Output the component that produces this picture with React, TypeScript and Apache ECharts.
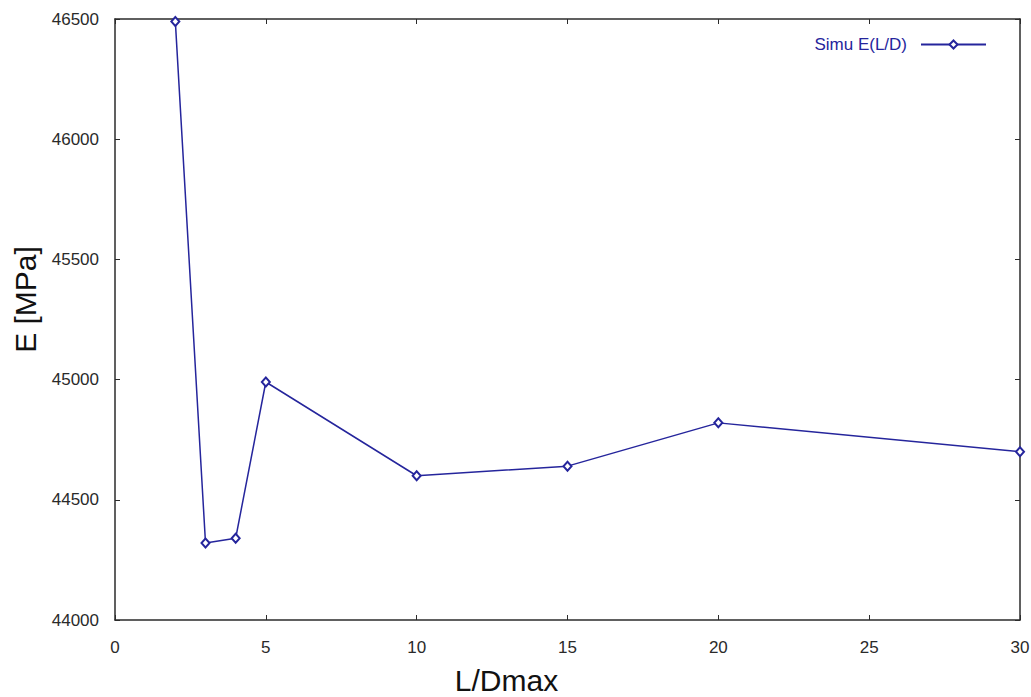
import React, { useEffect, useRef } from "react";
import * as echarts from "echarts";

// L/Dmax ratios and simulated modulus E [MPa]
const ratios: number[] = [2, 3, 4, 5, 10, 15, 20, 30];
const modulus: number[] = [46490, 44320, 44340, 44990, 44600, 44640, 44820, 44700];
const seriesName = "Simu E(L/D)";

const xMin = 0, xMax = 30, xStep = 5;
const yMin = 44000, yMax = 46500, yStep = 500;

const lineColor = "#25259c";
const axisColor = "#2b2b2b";
const font = "'Liberation Sans', Arial, sans-serif";

export default function App() {
  const ref = useRef<HTMLDivElement>(null);

  useEffect(() => {
    if (!ref.current) return;
    const chart = echarts.init(ref.current, undefined, { renderer: "svg" });
    const axisLine = { show: true, onZero: false, lineStyle: { color: axisColor, width: 1.5 } };
    const tick = { show: true, inside: true, length: 5, lineStyle: { color: axisColor, width: 1 } };
    const label = { color: "#2a2a2a", fontSize: 17, fontFamily: font };
    chart.setOption({
      animation: false,
      backgroundColor: "#fff",
      grid: { left: 115, right: 11, top: 19, bottom: 77, containLabel: false, outerBoundsMode: "none" },
      legend: {
        right: 39,
        top: 31,
        align: "right",
        itemWidth: 65,
        itemHeight: 10,
        textStyle: { color: lineColor, fontSize: 17, fontFamily: font, padding: [0, 9, 0, 0] },
        data: [seriesName],
      },
      xAxis: [
        {
          type: "value", min: xMin, max: xMax, interval: xStep,
          name: "L/Dmax", nameLocation: "middle", nameGap: 45,
          nameTextStyle: { fontSize: 30, color: "#111", fontFamily: font, padding: [0, 122, 0, 0] },
          axisLine, axisTick: tick,
          axisLabel: { ...label, margin: 19, formatter: (v: number) => String(v) },
          splitLine: { show: false },
        },
        {
          type: "value", position: "top", min: xMin, max: xMax, interval: xStep,
          axisLine, axisTick: tick, axisLabel: { show: false }, splitLine: { show: false },
        },
      ],
      yAxis: [
        {
          type: "value", min: yMin, max: yMax, interval: yStep,
          name: "E [MPa]", nameLocation: "middle", nameGap: 73,
          nameTextStyle: { fontSize: 30, color: "#111", fontFamily: font, padding: [0, 0, 0, 40] },
          axisLine, axisTick: tick,
          axisLabel: { ...label, margin: 16, formatter: (v: number) => String(v) },
          splitLine: { show: false },
        },
        {
          type: "value", position: "right", min: yMin, max: yMax, interval: yStep,
          axisLine, axisTick: tick, axisLabel: { show: false }, splitLine: { show: false },
        },
      ],
      series: [
        {
          name: seriesName,
          type: "line",
          data: ratios.map((r, i) => [r, modulus[i]]),
          symbol: "emptyDiamond",
          symbolSize: [8, 9],
          showAllSymbol: true,
          lineStyle: { color: lineColor, width: 1.5 },
          itemStyle: { color: lineColor, borderColor: lineColor, borderWidth: 1.2 },
          clip: false,
        },
      ],
    });
    return () => chart.dispose();
  }, []);

  return (
    <div
      ref={ref}
      style={{ position: "absolute", left: 0, top: 0, width: 1031, height: 697 }}
    />
  );
}
